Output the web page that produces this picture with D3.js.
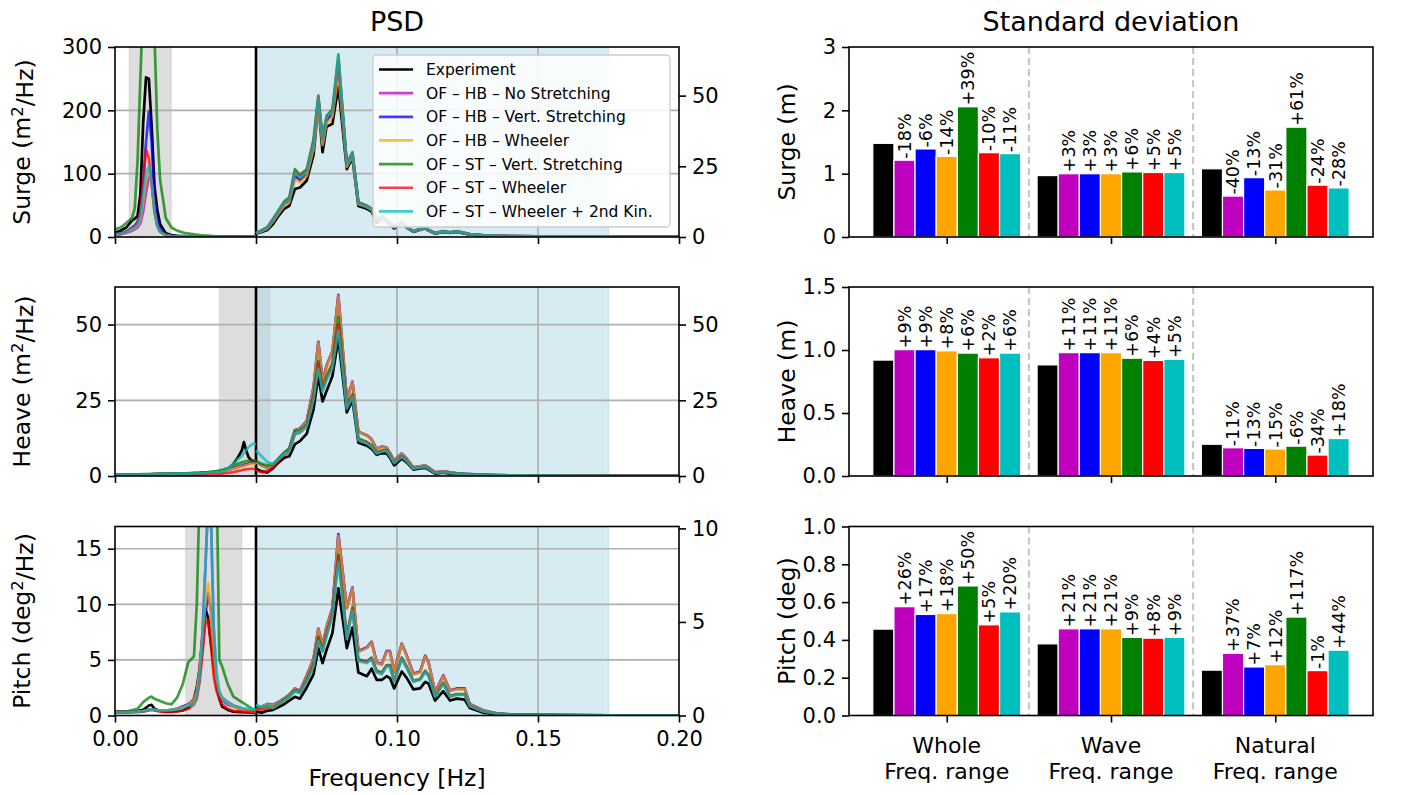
<!DOCTYPE html>
<html>
<head>
<meta charset="utf-8">
<script src="https://cdn.jsdelivr.net/npm/d3@7"></script>
<style>
  body { margin: 0; background: #fff; }
  svg { display: block; }
</style>
</head>
<body>
<svg id="fig" width="1422" height="795"></svg>
<script>
// ---------------- series ----------------
const seriesNames = [
  "Experiment",
  "OF – HB – No Stretching",
  "OF – HB – Vert. Stretching",
  "OF – HB – Wheeler",
  "OF – ST – Vert. Stretching",
  "OF – ST – Wheeler",
  "OF – ST – Wheeler + 2nd Kin."
];
const seriesColors = ["#000000", "#bf00bf", "#0000ff", "#ffa500", "#008000", "#ff0000", "#00bfbf"];

// ---------------- PSD: frequency grids ----------------
const freqTicks = [0, 0.05, 0.10, 0.15, 0.20];
const waveBand = [0.05, 0.175];
const naturalBands = [[0.005, 0.020], [0.037, 0.055], [0.025, 0.045]];

const waveFreq = [
  0.0500, 0.0520, 0.0540, 0.0560, 0.0580,
  0.0600, 0.0618, 0.0638, 0.0656, 0.0680,
  0.0704, 0.0721, 0.0736, 0.0750, 0.0771,
  0.0792, 0.0822, 0.0842, 0.0863, 0.0893,
  0.0910, 0.0928, 0.0946, 0.0963, 0.0975,
  0.0990, 0.1017, 0.1035, 0.1058, 0.1082,
  0.1100, 0.1112, 0.1135, 0.1164, 0.1188,
  0.1212, 0.1240, 0.1258, 0.1306, 0.1353,
  0.1400, 0.1500, 0.1600, 0.1750, 0.2000
];

// ---------------- Surge PSD ----------------
const surgeLowFreq = [0, 0.002, 0.004, 0.006, 0.007, 0.008, 0.009, 0.010, 0.011, 0.012,
  0.013, 0.014, 0.015, 0.016, 0.018, 0.020, 0.022, 0.025, 0.030, 0.035, 0.040, 0.050];
const surgeLowPsd = [
  [7, 10, 15, 26, 29, 33, 67, 181, 252, 250, 175, 80, 43, 20, 6, 3, 2, 1.3, 0.9, 0.7, 0.6, 0.5],
  [3, 4, 6, 10, 12, 15, 22, 40, 70, 95, 88, 45, 18, 8, 3, 1.5, 1, 0.7, 0.5, 0.4, 0.3, 0.3],
  [5, 6, 9, 15, 18, 24, 40, 85, 150, 198, 150, 60, 28, 12, 4, 2, 1.5, 1, 0.7, 0.5, 0.4, 0.3],
  [4, 5, 7, 12, 14, 18, 28, 55, 90, 105, 85, 40, 17, 8, 3, 1.5, 1, 0.7, 0.5, 0.4, 0.3, 0.3],
  [12, 15, 22, 30, 45, 120, 250, 380, 450, 470, 430, 320, 170, 90, 30, 15, 10, 6, 3, 1.5, 1, 0.6],
  [4, 5, 8, 14, 17, 22, 40, 90, 138, 125, 85, 40, 18, 9, 3, 1.5, 1, 0.7, 0.5, 0.4, 0.3, 0.3],
  [4, 5, 8, 13, 15, 20, 32, 65, 100, 112, 85, 40, 17, 8, 3, 1.5, 1, 0.7, 0.5, 0.4, 0.3, 0.3]
];
const surgeWavePsd = [
  [1.2, 1.8, 2.5, 4.5, 7.5, 10.0, 11.0, 17.0, 17.5, 20.0, 29.0, 47.0, 30.0, 39.0, 40.0,
   53.3, 24.0, 28.0, 11.0, 10.0, 9.0, 5.0, 7.0, 5.5, 4.5, 3.0, 5.0, 3.3, 1.8, 2.6,
   3.0, 2.3, 1.2, 1.8, 1.4, 1.8, 1.2, 0.9, 0.5, 0.35, 0.25, 0.18, 0.12, 0.08, 0.04],
  [1.3, 2.1, 3.0, 5.6, 8.6, 11.5, 12.6, 21.5, 20.0, 22.2, 32.0, 48.0, 33.5, 41.0, 43.5,
   61.0, 25.2, 29.0, 11.8, 10.7, 9.6, 6.0, 7.2, 5.9, 4.9, 3.5, 5.1, 3.4, 1.9, 2.7,
   3.1, 2.4, 1.3, 1.9, 1.5, 1.9, 1.3, 0.95, 0.55, 0.38, 0.28, 0.19, 0.14, 0.09, 0.05],
  [1.3, 2.1, 3.0, 5.7, 8.7, 11.6, 12.7, 21.8, 20.2, 22.4, 32.3, 48.3, 33.8, 41.3, 43.8,
   60.5, 25.3, 29.1, 11.9, 10.8, 9.7, 6.1, 7.2, 5.9, 4.9, 3.5, 5.1, 3.4, 1.9, 2.7,
   3.1, 2.4, 1.3, 1.9, 1.5, 1.9, 1.3, 0.95, 0.55, 0.38, 0.28, 0.19, 0.14, 0.09, 0.05],
  [1.3, 2.0, 2.9, 5.4, 8.3, 11.0, 12.2, 20.5, 19.3, 21.5, 31.0, 46.0, 32.5, 40.0, 42.5,
   58.0, 24.8, 28.6, 11.6, 10.6, 9.5, 5.9, 7.1, 5.8, 4.8, 3.4, 5.0, 3.4, 1.9, 2.7,
   3.1, 2.4, 1.3, 1.9, 1.5, 1.9, 1.3, 0.95, 0.55, 0.38, 0.28, 0.19, 0.14, 0.09, 0.05],
  [1.5, 2.4, 3.5, 6.4, 9.5, 12.6, 14.0, 24.0, 22.0, 24.0, 34.5, 50.0, 35.0, 42.8, 45.2,
   64.5, 26.0, 30.0, 12.3, 11.1, 10.0, 6.3, 7.4, 6.1, 5.1, 3.7, 5.3, 3.6, 2.1, 2.9,
   3.3, 2.6, 1.5, 2.1, 1.7, 2.1, 1.5, 1.05, 0.62, 0.42, 0.31, 0.21, 0.15, 0.10, 0.05],
  [1.4, 2.2, 3.3, 6.1, 9.1, 12.1, 13.4, 23.0, 21.2, 23.3, 33.5, 49.5, 34.6, 42.3, 44.7,
   62.5, 25.7, 29.6, 12.1, 11.0, 9.9, 6.2, 7.3, 6.0, 5.0, 3.6, 5.2, 3.5, 2.0, 2.8,
   3.2, 2.5, 1.4, 2.0, 1.6, 2.0, 1.4, 1.0, 0.6, 0.4, 0.3, 0.2, 0.15, 0.10, 0.05],
  [1.4, 2.2, 3.2, 6.0, 9.0, 12.0, 13.2, 22.7, 20.9, 23.0, 33.0, 49.2, 34.4, 42.1, 44.5,
   64.1, 25.6, 29.5, 12.0, 10.9, 9.8, 6.2, 7.3, 6.0, 5.0, 3.6, 5.2, 3.5, 2.0, 2.8,
   3.2, 2.5, 1.4, 2.0, 1.6, 2.0, 1.4, 1.0, 0.6, 0.4, 0.3, 0.2, 0.15, 0.10, 0.05]
];

// ---------------- Heave PSD ----------------
const heaveLowFreq = [0, 0.005, 0.010, 0.015, 0.020, 0.025, 0.030, 0.033, 0.036, 0.038,
  0.040, 0.042, 0.0435, 0.045, 0.0457, 0.0465, 0.0473, 0.048, 0.049, 0.050];
const heaveLowPsd = [
  [0.3, 0.4, 0.5, 0.6, 0.7, 0.8, 1.0, 1.2, 1.4, 1.7, 2.3, 4.0, 6.0, 8.5, 11.2, 8.5, 6.3, 5.5, 4.6, 4.2],
  [0.3, 0.4, 0.5, 0.6, 0.7, 0.8, 0.9, 1.0, 1.2, 1.5, 2.0, 2.6, 3.0, 3.4, 3.7, 3.9, 4.1, 4.3, 4.5, 4.5],
  [0.3, 0.4, 0.5, 0.6, 0.7, 0.8, 0.9, 1.0, 1.2, 1.5, 2.0, 2.6, 3.0, 3.4, 3.6, 3.8, 4.0, 4.2, 4.4, 4.4],
  [0.3, 0.4, 0.5, 0.6, 0.7, 0.8, 0.9, 1.0, 1.2, 1.4, 1.9, 2.5, 2.9, 3.2, 3.4, 3.6, 3.8, 4.0, 4.1, 4.1],
  [0.4, 0.5, 0.6, 0.7, 0.8, 0.9, 1.1, 1.3, 1.6, 2.0, 2.6, 3.5, 4.0, 4.5, 4.7, 4.9, 5.0, 5.1, 5.2, 5.2],
  [0.2, 0.2, 0.3, 0.3, 0.4, 0.4, 0.5, 0.6, 0.7, 0.8, 1.0, 1.3, 1.6, 1.9, 2.1, 2.2, 2.3, 2.4, 2.4, 2.3],
  [0.3, 0.4, 0.5, 0.6, 0.7, 0.8, 0.9, 1.1, 1.3, 1.6, 2.4, 4.0, 5.5, 6.5, 7.5, 8.5, 9.5, 10.0, 10.7, 10.5]
];
const heaveWavePsd = [
  [2.4, 1.5, 1.2, 2.5, 4.5, 6.0, 6.5, 10.5, 11.5, 14.0, 22.0, 33.0, 24.6, 28.0, 33.0,
   45.4, 21.0, 25.0, 11.0, 10.0, 9.0, 7.0, 7.5, 7.5, 6.0, 3.5, 5.8, 4.4, 2.1, 2.5,
   2.7, 2.1, 0.8, 1.1, 0.8, 0.6, 0.5, 0.4, 0.3, 0.2, 0.15, 0.10, 0.08, 0.06, 0.04],
  [4.6, 3.6, 2.6, 3.6, 5.6, 7.6, 9.1, 15.2, 15.7, 18.2, 29.3, 44.3, 31.3, 36.3, 41.3,
   59.8, 25.2, 31.2, 14.6, 13.4, 12.1, 8.9, 9.7, 9.4, 7.6, 5.1, 7.4, 5.6, 2.9, 3.2,
   3.5, 2.8, 1.2, 1.5, 1.2, 0.9, 0.7, 0.6, 0.4, 0.3, 0.22, 0.16, 0.12, 0.09, 0.06],
  [4.6, 3.6, 2.6, 3.6, 5.6, 7.6, 9.1, 15.1, 15.6, 18.1, 29.2, 44.2, 31.2, 36.2, 41.2,
   59.6, 25.1, 31.1, 14.6, 13.4, 12.1, 8.9, 9.7, 9.4, 7.6, 5.1, 7.4, 5.6, 2.9, 3.2,
   3.5, 2.8, 1.2, 1.5, 1.2, 0.9, 0.7, 0.6, 0.4, 0.3, 0.22, 0.16, 0.12, 0.09, 0.06],
  [4.5, 3.5, 2.5, 3.5, 5.5, 7.5, 9.0, 15.0, 15.5, 18.0, 29.0, 44.0, 31.0, 36.0, 41.0,
   59.5, 25.0, 31.0, 14.5, 13.3, 12.0, 8.8, 9.6, 9.3, 7.5, 5.0, 7.3, 5.5, 2.9, 3.2,
   3.5, 2.8, 1.2, 1.5, 1.2, 0.9, 0.7, 0.6, 0.4, 0.3, 0.22, 0.16, 0.12, 0.09, 0.06],
  [5.0, 4.0, 3.5, 4.0, 5.8, 7.8, 8.8, 14.8, 15.0, 17.0, 27.0, 38.0, 29.0, 33.0, 37.5,
   52.5, 23.5, 27.0, 12.5, 11.3, 10.2, 7.8, 8.4, 8.6, 6.8, 4.4, 6.6, 5.0, 2.5, 2.9,
   3.1, 2.5, 1.05, 1.35, 1.05, 0.85, 0.62, 0.52, 0.36, 0.26, 0.20, 0.15, 0.10, 0.08, 0.05],
  [1.8, 1.3, 1.5, 3.0, 5.0, 7.0, 8.0, 13.8, 14.3, 16.5, 26.0, 37.0, 28.5, 32.0, 36.5,
   50.0, 22.8, 26.5, 12.0, 11.0, 9.9, 7.6, 8.2, 8.4, 6.6, 4.3, 6.4, 4.9, 2.4, 2.8,
   3.0, 2.4, 1.0, 1.3, 1.0, 0.8, 0.6, 0.5, 0.35, 0.25, 0.20, 0.15, 0.10, 0.08, 0.05],
  [8.5, 6.5, 4.6, 4.0, 5.5, 7.4, 8.0, 14.0, 14.5, 16.3, 25.0, 35.5, 27.7, 31.6, 35.5,
   48.1, 22.2, 26.1, 11.8, 10.7, 9.6, 7.4, 8.0, 8.3, 6.5, 4.2, 6.3, 4.8, 2.4, 2.8,
   3.0, 2.4, 1.0, 1.3, 1.0, 0.8, 0.6, 0.5, 0.35, 0.25, 0.20, 0.15, 0.10, 0.08, 0.05]
];

// ---------------- Pitch PSD ----------------
const pitchLowFreq = [0, 0.004, 0.008, 0.010, 0.012, 0.013, 0.014, 0.016, 0.018, 0.020,
  0.022, 0.024, 0.026, 0.028, 0.029, 0.030, 0.031, 0.032, 0.033, 0.034,
  0.035, 0.036, 0.037, 0.038, 0.040, 0.042, 0.045, 0.050];
const pitchLowPsd = [
  [0.35, 0.35, 0.4, 0.5, 0.9, 0.95, 0.6, 0.4, 0.35, 0.35, 0.4, 0.45, 0.7, 1.5, 2.5, 4.2, 7.0, 9.6, 8.8, 6.5, 4.5, 3.0, 1.5, 0.8, 0.5, 0.35, 0.3, 0.25],
  [0.3, 0.3, 0.35, 0.4, 0.5, 0.55, 0.5, 0.45, 0.45, 0.5, 0.6, 0.8, 1.0, 1.4, 2.2, 4.0, 7.5, 13.0, 19.0, 18.0, 8.0, 3.0, 2.0, 1.6, 1.2, 0.9, 0.6, 0.3],
  [0.3, 0.3, 0.35, 0.4, 0.5, 0.55, 0.5, 0.45, 0.45, 0.5, 0.6, 0.8, 1.0, 1.4, 2.0, 3.5, 6.0, 9.0, 11.0, 9.5, 5.0, 2.5, 1.8, 1.4, 1.0, 0.8, 0.5, 0.3],
  [0.3, 0.3, 0.35, 0.4, 0.5, 0.55, 0.5, 0.45, 0.45, 0.5, 0.6, 0.75, 0.95, 1.4, 2.2, 4.0, 7.0, 10.0, 11.9, 9.0, 5.0, 3.0, 2.0, 1.5, 1.1, 0.8, 0.5, 0.3],
  [0.3, 0.35, 0.6, 1.2, 1.6, 1.7, 1.5, 1.3, 1.1, 1.0, 1.6, 2.8, 4.8, 5.3, 10.0, 20.0, 32.0, 42.0, 45.0, 40.0, 32.0, 22.0, 5.0, 4.4, 2.8, 1.7, 1.2, 0.4],
  [0.3, 0.3, 0.3, 0.35, 0.45, 0.5, 0.45, 0.35, 0.3, 0.3, 0.35, 0.45, 0.6, 1.0, 1.5, 3.0, 5.5, 8.2, 8.6, 6.5, 3.5, 2.2, 1.5, 1.0, 0.6, 0.4, 0.35, 0.3],
  [0.3, 0.3, 0.35, 0.4, 0.5, 0.55, 0.5, 0.45, 0.45, 0.5, 0.55, 0.7, 0.9, 1.0, 1.8, 3.5, 7.0, 13.0, 19.0, 18.0, 8.0, 4.0, 2.2, 1.6, 1.2, 0.9, 0.7, 0.5]
];
const pitchWavePsd = [
  [0.20, 0.15, 0.25, 0.30, 0.45, 0.60, 0.80, 1.00, 0.90, 1.50, 2.20, 3.60, 2.80, 3.50, 4.40,
   6.80, 3.60, 4.70, 2.30, 2.10, 2.50, 1.90, 1.90, 2.10, 2.00, 1.45, 2.35, 2.00, 1.40, 1.45,
   1.80, 1.70, 0.80, 1.30, 0.80, 0.90, 0.85, 0.40, 0.15, 0.06, 0.03, 0.02, 0.01, 0.01, 0.01],
  [0.32, 0.47, 0.62, 0.57, 0.72, 0.92, 1.12, 1.45, 1.33, 2.15, 3.05, 4.65, 3.75, 4.75, 5.75,
   9.65, 5.75, 6.85, 3.45, 3.65, 3.95, 2.85, 2.75, 3.45, 3.45, 2.35, 3.85, 3.20, 2.25, 2.35,
   3.20, 2.85, 1.25, 2.15, 1.35, 1.45, 1.45, 0.62, 0.28, 0.12, 0.06, 0.03, 0.02, 0.01, 0.01],
  [0.31, 0.46, 0.61, 0.56, 0.71, 0.91, 1.11, 1.42, 1.31, 2.12, 3.02, 4.62, 3.72, 4.72, 5.72,
   9.70, 5.72, 6.82, 3.42, 3.62, 3.92, 2.82, 2.72, 3.42, 3.42, 2.32, 3.82, 3.17, 2.22, 2.32,
   3.17, 2.82, 1.22, 2.12, 1.32, 1.42, 1.42, 0.61, 0.27, 0.12, 0.06, 0.03, 0.02, 0.01, 0.01],
  [0.30, 0.45, 0.60, 0.55, 0.70, 0.90, 1.10, 1.40, 1.30, 2.10, 3.00, 4.60, 3.70, 4.70, 5.70,
   9.60, 5.70, 6.80, 3.40, 3.60, 3.90, 2.80, 2.70, 3.40, 3.40, 2.30, 3.80, 3.15, 2.20, 2.30,
   3.15, 2.80, 1.20, 2.10, 1.30, 1.40, 1.40, 0.60, 0.27, 0.12, 0.06, 0.03, 0.02, 0.01, 0.01],
  [0.50, 0.42, 0.52, 0.42, 0.62, 0.85, 1.05, 1.35, 1.25, 1.90, 2.75, 4.20, 3.50, 4.35, 5.45,
   8.60, 4.30, 5.80, 3.00, 2.90, 3.10, 2.40, 2.30, 2.70, 2.70, 1.85, 3.10, 2.60, 1.85, 1.95,
   2.40, 2.15, 1.05, 1.75, 1.05, 1.15, 1.15, 0.52, 0.23, 0.10, 0.05, 0.03, 0.02, 0.01, 0.01],
  [0.35, 0.30, 0.40, 0.38, 0.58, 0.80, 1.00, 1.30, 1.20, 1.85, 2.70, 4.10, 3.45, 4.30, 5.40,
   8.50, 4.20, 5.70, 2.95, 2.85, 3.05, 2.35, 2.25, 2.65, 2.65, 1.82, 3.05, 2.55, 1.82, 1.92,
   2.35, 2.12, 1.02, 1.72, 1.02, 1.12, 1.12, 0.51, 0.22, 0.10, 0.05, 0.03, 0.02, 0.01, 0.01],
  [0.57, 0.45, 0.55, 0.40, 0.60, 0.80, 1.00, 1.30, 1.20, 1.80, 2.60, 4.00, 3.40, 4.20, 5.30,
   8.20, 4.10, 5.60, 2.90, 2.80, 3.00, 2.30, 2.20, 2.60, 2.60, 1.80, 3.00, 2.50, 1.80, 1.90,
   2.30, 2.10, 1.00, 1.70, 1.00, 1.10, 1.10, 0.50, 0.22, 0.10, 0.05, 0.03, 0.02, 0.01, 0.01]
];

// ---------------- PSD axes ----------------
const psdLeftMax = [300, 62.4, 17];
const psdRightMax = [67.2, 62.4, 10.1];
const psdLeftTicks = [[0, 100, 200, 300], [0, 25, 50], [0, 5, 10, 15]];
const psdRightTicks = [[0, 25, 50], [0, 25, 50], [0, 5, 10]];
const psdYLabels = [["Surge (m", "2", "/Hz)"], ["Heave (m", "2", "/Hz)"], ["Pitch (deg", "2", "/Hz)"]];

// ---------------- Standard deviation ----------------
const rangeNames = [["Whole", "Freq. range"], ["Wave", "Freq. range"], ["Natural", "Freq. range"]];
const surgeStdExp = [1.479, 0.970, 1.077];
const surgeStdPct = [[-18, -6, -14, 39, -10, -11], [3, 3, 3, 6, 5, 5], [-40, -13, -31, 61, -24, -28]];
const heaveStdExp = [0.920, 0.882, 0.252];
const heaveStdPct = [[9, 9, 8, 6, 2, 6], [11, 11, 11, 6, 4, 5], [-11, -13, -15, -6, -34, 18]];
const pitchStdExp = [0.457, 0.379, 0.240];
const pitchStdPct = [[26, 17, 18, 50, 5, 20], [21, 21, 21, 9, 8, 9], [37, 7, 12, 117, -1, 44]];
const stdMax = [3, 1.5, 1.0];
const stdTicks = [[0, 1, 2, 3], [0, 0.5, 1.0, 1.5], [0, 0.2, 0.4, 0.6, 0.8, 1.0]];
const stdTickFormats = ["d", ".1f", ".1f"];
const stdYLabels = ["Surge (m)", "Heave (m)", "Pitch (deg)"];

// ---------------- layout ----------------
const FONT = "DejaVu Sans, Verdana, sans-serif";
const TICK_FS = 21, LABEL_FS = 23.5, TITLE_FS = 27, LEGEND_FS = 15.5, BARLABEL_FS = 17.5;
const psdX = [115, 679];
const barX = [849, 1373];
const rowY = [[47, 237], [287, 476], [526.5, 715.5]];
const TICK_LEN = 7, TICK_PAD = 6, XTICK_PAD = 9;

const svg = d3.select("#fig");
const defs = svg.append("defs");
svg.append("rect").attr("width", 1422).attr("height", 795).attr("fill", "#fff");

const xF = d3.scaleLinear().domain([0, 0.2]).range(psdX);

function styleAxis(sel) {
  sel.attr("font-family", FONT).attr("font-size", TICK_FS);
  sel.select(".domain").remove();
  sel.selectAll(".tick line").attr("stroke", "#000").attr("stroke-width", 1.6);
  sel.selectAll(".tick text").attr("fill", "#000");
}

const psdPanels = [
  { lowF: surgeLowFreq, low: surgeLowPsd, wave: surgeWavePsd },
  { lowF: heaveLowFreq, low: heaveLowPsd, wave: heaveWavePsd },
  { lowF: pitchLowFreq, low: pitchLowPsd, wave: pitchWavePsd }
];

psdPanels.forEach((p, i) => {
  const [top, bot] = rowY[i];
  const yL = d3.scaleLinear().domain([0, psdLeftMax[i]]).range([bot, top]);
  const yR = d3.scaleLinear().domain([0, psdRightMax[i]]).range([bot, top]);
  const g = svg.append("g");

  defs.append("clipPath").attr("id", "psdclip" + i)
    .append("rect").attr("x", psdX[0]).attr("y", top)
    .attr("width", psdX[1] - psdX[0]).attr("height", bot - top);
  const body = g.append("g").attr("clip-path", `url(#psdclip${i})`);

  // natural-frequency band, then wave band on top
  const nb = naturalBands[i];
  body.append("rect").attr("x", xF(nb[0])).attr("y", top)
    .attr("width", xF(nb[1]) - xF(nb[0])).attr("height", bot - top)
    .attr("fill", "#808080").attr("fill-opacity", 0.27)
    .attr("stroke", "#808080").attr("stroke-opacity", 0.12).attr("stroke-width", 1.5);
  body.append("rect").attr("x", xF(waveBand[0])).attr("y", top)
    .attr("width", xF(waveBand[1]) - xF(waveBand[0])).attr("height", bot - top)
    .attr("fill", "#add8e6").attr("fill-opacity", 0.5)
    .attr("stroke", "#add8e6").attr("stroke-opacity", 0.5).attr("stroke-width", 1.5);

  // grid
  body.selectAll(".vgrid").data(freqTicks.slice(1, -1)).enter().append("line")
    .attr("x1", d => xF(d)).attr("x2", d => xF(d)).attr("y1", top).attr("y2", bot)
    .attr("stroke", "#b0b0b0").attr("stroke-width", 1.7);
  body.selectAll(".hgrid").data(psdLeftTicks[i].filter(t => t > 0 && t < psdLeftMax[i])).enter().append("line")
    .attr("x1", psdX[0]).attr("x2", psdX[1]).attr("y1", d => yL(d)).attr("y2", d => yL(d))
    .attr("stroke", "#b0b0b0").attr("stroke-width", 1.7);

  // boundary between the two frequency ranges
  body.append("line").attr("x1", xF(0.05)).attr("x2", xF(0.05)).attr("y1", top).attr("y2", bot)
    .attr("stroke", "#000").attr("stroke-width", 2.6);

  // low-frequency part on the left axis
  const lineL = d3.line().x(d => xF(d[0])).y(d => yL(d[1]));
  p.low.forEach((vals, s) => {
    body.append("path").datum(p.lowF.map((f, k) => [f, vals[k]]))
      .attr("d", lineL).attr("fill", "none")
      .attr("stroke", seriesColors[s]).attr("stroke-opacity", s === 0 ? 1 : 0.75)
      .attr("stroke-width", 2.7).attr("stroke-linejoin", "round");
  });
  // wave-frequency part on the right (twin) axis
  const lineR = d3.line().x(d => xF(d[0])).y(d => yR(d[1]));
  p.wave.forEach((vals, s) => {
    body.append("path").datum(waveFreq.map((f, k) => [f, vals[k]]))
      .attr("d", lineR).attr("fill", "none")
      .attr("stroke", seriesColors[s]).attr("stroke-opacity", s === 0 ? 1 : 0.75)
      .attr("stroke-width", 2.7).attr("stroke-linejoin", "round");
  });

  // frame
  g.append("rect").attr("x", psdX[0]).attr("y", top)
    .attr("width", psdX[1] - psdX[0]).attr("height", bot - top)
    .attr("fill", "none").attr("stroke", "#000").attr("stroke-width", 1.6);

  // axes
  const ax = g.append("g").attr("transform", `translate(${psdX[0]},0)`)
    .call(d3.axisLeft(yL).tickValues(psdLeftTicks[i]).tickFormat(d3.format("d"))
      .tickSize(TICK_LEN).tickPadding(TICK_PAD));
  styleAxis(ax);
  const axR = g.append("g").attr("transform", `translate(${psdX[1]},0)`)
    .call(d3.axisRight(yR).tickValues(psdRightTicks[i]).tickFormat(d3.format("d"))
      .tickSize(TICK_LEN).tickPadding(TICK_PAD));
  styleAxis(axR);
  const axB = g.append("g").attr("transform", `translate(0,${bot})`)
    .call(d3.axisBottom(xF).tickValues(freqTicks)
      .tickFormat(i === 2 ? d3.format(".2f") : () => "")
      .tickSize(TICK_LEN).tickPadding(XTICK_PAD));
  styleAxis(axB);

  // y label with superscript
  const yl = g.append("text")
    .attr("transform", `translate(30,${(top + bot) / 2}) rotate(-90)`)
    .attr("text-anchor", "middle").attr("font-family", FONT).attr("font-size", LABEL_FS);
  yl.append("tspan").text(psdYLabels[i][0]);
  yl.append("tspan").attr("dy", "-0.45em").attr("font-size", LABEL_FS * 0.7).text(psdYLabels[i][1]);
  yl.append("tspan").attr("dy", "0.45em").text(psdYLabels[i][2]);
});

// PSD title and frequency label
svg.append("text").attr("x", (psdX[0] + psdX[1]) / 2).attr("y", 31)
  .attr("text-anchor", "middle").attr("font-family", FONT).attr("font-size", TITLE_FS).text("PSD");
svg.append("text").attr("x", (psdX[0] + psdX[1]) / 2).attr("y", 786)
  .attr("text-anchor", "middle").attr("font-family", FONT).attr("font-size", LABEL_FS).text("Frequency [Hz]");

// legend in the surge PSD panel
const leg = svg.append("g");
leg.append("rect").attr("x", 373).attr("y", 55).attr("width", 297).attr("height", 172)
  .attr("rx", 4).attr("fill", "#fff").attr("fill-opacity", 0.85)
  .attr("stroke", "#cccccc").attr("stroke-width", 1.3);
seriesNames.forEach((name, s) => {
  const y = 69.5 + s * 23.65;
  leg.append("line").attr("x1", 379).attr("x2", 413).attr("y1", y).attr("y2", y)
    .attr("stroke", seriesColors[s]).attr("stroke-opacity", s === 0 ? 1 : 0.75).attr("stroke-width", 2.7);
  leg.append("text").attr("x", 426).attr("y", y).attr("dy", "0.35em")
    .attr("font-family", FONT).attr("font-size", LEGEND_FS).text(name);
});

// ---------------- Standard deviation bars ----------------
const xB = d3.scaleLinear().domain([-0.595, 2.595]).range(barX);
const groupWidth = 0.9;
const barStep = groupWidth / seriesNames.length;
const stdPanels = [
  { exp: surgeStdExp, pct: surgeStdPct },
  { exp: heaveStdExp, pct: heaveStdPct },
  { exp: pitchStdExp, pct: pitchStdPct }
];
const pctText = p => (p >= 0 ? "+" : "-") + Math.abs(p) + "%";

stdPanels.forEach((p, i) => {
  const [top, bot] = rowY[i];
  const yB = d3.scaleLinear().domain([0, stdMax[i]]).range([bot, top]);
  const g = svg.append("g");

  // separators between ranges
  g.selectAll(".sep").data([0.5, 1.5]).enter().append("line")
    .attr("x1", d => xB(d)).attr("x2", d => xB(d)).attr("y1", top).attr("y2", bot)
    .attr("stroke", "#c4c4c4").attr("stroke-width", 2).attr("stroke-dasharray", "7,4");

  const rows = [];
  p.exp.forEach((e, r) => {
    rows.push({ r, s: 0, v: e, label: null });
    p.pct[r].forEach((pc, k) => rows.push({ r, s: k + 1, v: e * (1 + pc / 100), label: pctText(pc) }));
  });
  const cx = d => xB(d.r + (d.s - (seriesNames.length - 1) / 2) * barStep);
  const w = xB(barStep) - xB(0);

  g.selectAll(".bar").data(rows).enter().append("rect")
    .attr("x", d => cx(d) - w / 2).attr("width", w)
    .attr("y", d => yB(d.v)).attr("height", d => bot - yB(d.v))
    .attr("fill", d => seriesColors[d.s])
    .attr("stroke", "#fff").attr("stroke-width", 1.2);

  g.selectAll(".lbl").data(rows.filter(d => d.label)).enter().append("text")
    .attr("transform", d => `translate(${cx(d)},${yB(d.v) - 1.5}) rotate(-90)`)
    .attr("dy", "0.36em").attr("text-anchor", "start")
    .attr("font-family", FONT).attr("font-size", BARLABEL_FS).text(d => d.label);

  g.append("rect").attr("x", barX[0]).attr("y", top)
    .attr("width", barX[1] - barX[0]).attr("height", bot - top)
    .attr("fill", "none").attr("stroke", "#000").attr("stroke-width", 1.6);

  const ax = g.append("g").attr("transform", `translate(${barX[0]},0)`)
    .call(d3.axisLeft(yB).tickValues(stdTicks[i]).tickFormat(d3.format(stdTickFormats[i]))
      .tickSize(TICK_LEN).tickPadding(TICK_PAD));
  styleAxis(ax);
  const axB = g.append("g").attr("transform", `translate(0,${bot})`)
    .call(d3.axisBottom(xB).tickValues([0, 1, 2]).tickFormat(() => "")
      .tickSize(TICK_LEN));
  styleAxis(axB);

  g.append("text")
    .attr("transform", `translate(787,${(top + bot) / 2}) rotate(-90)`)
    .attr("text-anchor", "middle").attr("dy", "0.35em")
    .attr("font-family", FONT).attr("font-size", LABEL_FS).text(stdYLabels[i]);

  if (i === 2) {
    rangeNames.forEach((lines, r) => {
      const t = g.append("text").attr("x", xB(r)).attr("y", 753)
        .attr("text-anchor", "middle").attr("font-family", FONT).attr("font-size", 22);
      lines.forEach((ln, k) => t.append("tspan").attr("x", xB(r)).attr("dy", k === 0 ? 0 : 26).text(ln));
    });
  }
});

svg.append("text").attr("x", (barX[0] + barX[1]) / 2).attr("y", 31)
  .attr("text-anchor", "middle").attr("font-family", FONT).attr("font-size", TITLE_FS)
  .text("Standard deviation");
</script>
</body>
</html>
